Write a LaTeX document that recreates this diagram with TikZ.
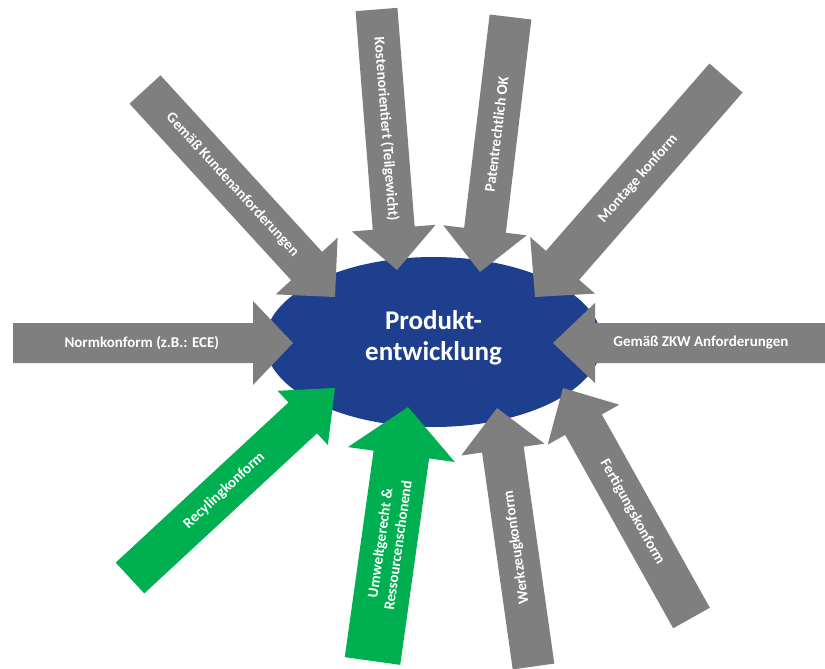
\documentclass[tikz,border=0pt]{standalone}
\usepackage{fontspec}
\setmainfont{Carlito}
\usepackage[HTML]{xcolor}
\usetikzlibrary{calc, shapes.geometric}

\definecolor{pgray}{HTML}{7F7F7F}
\definecolor{pblue}{HTML}{1E3F8E}
\definecolor{pgreen}{HTML}{00B050}

% block arrow from (#2T) to (#2): style, name, half shaft, half head, head length, text turn, text
\newcommand{\fatarrow}[7]{%
  \coordinate (#2N) at ($(#2)!#5!(#2T)$);
  \fill[#1] ($(#2T)!#3!90:(#2)$) -- ($(#2N)!#3!90:(#2)$) -- ($(#2N)!#4!90:(#2)$) -- (#2)
    -- ($(#2N)!#4!-90:(#2)$) -- ($(#2N)!#3!-90:(#2)$) -- ($(#2T)!#3!-90:(#2)$) -- cycle;
  \path let \p1=($(#2)-(#2T)$), \n1={atan2(\y1,\x1)+#6} in
    node[lbl, rotate=\n1] (#2L) at ($(#2T)!0.46!(#2)$) {#7};
}

\tikzset{
  lbl/.style={text=white, font=\bfseries\fontsize{15}{18}\selectfont, align=center, inner sep=0pt},
  ctext/.style={text=white, font=\bfseries\fontsize{27}{31}\selectfont, align=center, inner sep=0pt}
}

\begin{document}
\begin{tikzpicture}[x=1pt, y=-1pt]
\fill[white] (0,0) rectangle (825,669);
\useasboundingbox (0,0) rectangle (825,669);

% centre
\node[ellipse, fill=pblue, minimum width=337pt, minimum height=170pt, inner sep=0pt] (pe) at (433.5,342) {};

% tails and tips
\coordinate (kostenT) at (376.5,9.5);   \coordinate (kosten) at (397,270);
\coordinate (patentT) at (510.5,17);    \coordinate (patent) at (480,272);
\coordinate (montageT) at (726,78);     \coordinate (montage) at (535,297);
\coordinate (zkwT) at (827,343);        \coordinate (zkw) at (553,343);
\coordinate (fertT) at (691.5,618);     \coordinate (fert) at (563,388);
\coordinate (werkT) at (533.5,666.5);   \coordinate (werk) at (497,408);
\coordinate (umweltT) at (372.5,661);   \coordinate (umwelt) at (408,407);
\coordinate (recylT) at (130,578);      \coordinate (recyl) at (335,388);
\coordinate (normT) at (13,343);        \coordinate (norm) at (293,343);
\coordinate (kundenT) at (145,89.5);    \coordinate (kunden) at (335,297);

% arrows
\fatarrow{pgray}{kosten}{21pt}{42pt}{42pt}{0}{Kostenorientiert (Teilgewicht)}
\fatarrow{pgray}{patent}{21pt}{42pt}{42pt}{180}{Patentrechtlich OK}
\fatarrow{pgray}{montage}{22pt}{43pt}{42pt}{180}{Montage konform}
\fatarrow{pgray}{zkw}{20pt}{40pt}{42pt}{180}{Gemäß ZKW Anforderungen}
\fatarrow{pgray}{fert}{21pt}{41pt}{42pt}{180}{Fertigungskonform}
\fatarrow{pgray}{werk}{21pt}{42pt}{42pt}{0}{Werkzeugkonform}
\fatarrow{pgreen}{umwelt}{28pt}{54pt}{48pt}{0}{Umweltgerecht \&\\Ressourcenschonend}
\fatarrow{pgreen}{recyl}{21pt}{37pt}{44pt}{0}{Recylingkonform}
\fatarrow{pgray}{norm}{20pt}{42pt}{40pt}{0}{Normkonform (z.B.: ECE)}
\fatarrow{pgray}{kunden}{21pt}{42pt}{42pt}{0}{Gemäß Kundenanforderungen}

\node[ctext] (pt) at (433.5,338) {Produkt-\\entwicklung};
\end{tikzpicture}
\end{document}
